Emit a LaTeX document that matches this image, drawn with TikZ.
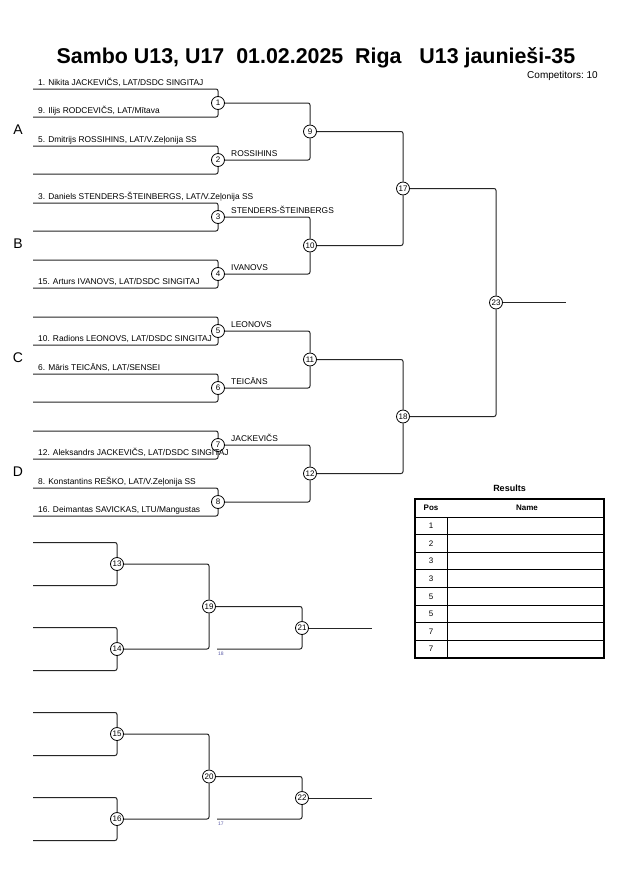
\documentclass[tikz,border=0pt]{standalone}
\usepackage{fontspec}
\setmainfont{Liberation Sans}
\begin{document}
\begin{tikzpicture}[x=1pt,y=-1pt,
  line/.style={line width=1pt,black!85,rounded corners=2pt},
  match/.style={circle,draw,line width=0.8pt,fill=white,inner sep=0.3pt,minimum size=13pt,font=\fontsize{8}{8}\selectfont},
  entry/.style={anchor=base west,inner sep=0pt,font=\fontsize{8.4}{9}\selectfont},
  tiny/.style={anchor=north west,inner sep=0pt,text=blue!30!gray,font=\fontsize{5}{5}\selectfont}]
  	\fill[white] (0,0) rectangle (630,891);
  	\useasboundingbox (0,0) rectangle (630,891);
  	\node[font=\bfseries\fontsize{21.4}{21.4}\selectfont] (title) at (316,57.5) {Sambo U13, U17\ \ 01.02.2025\ \ Riga\ \ \ U13 jaunieši-35};
  	\node[anchor=east,inner sep=0pt,font=\fontsize{10}{10}\selectfont] (comp) at (598,76) {Competitors:\ 10};
  	\foreach \i in {1,...,8}
  	{
  		\node[match] (m\i) at (218,46+57*\i) {\i};
  		\coordinate (t\i) at (33,32+57*\i);
  		\coordinate (b\i) at (33,60+57*\i);
  		\draw[line] (t\i) -| (m\i);
  		\draw[line] (b\i) -| (m\i);
  	}
  	\foreach \i/\x/\y in {9/310/131.5,10/310/245.5,11/310/359.5,12/310/473.5,17/403/188.5,18/403/416.5,23/496/302.5,13/117/564,14/117/649,15/117/734,16/117/819,19/209/606.5,20/209/776.5,21/302/628,22/302/798}
  	{
  		\node[match] (m\i) at (\x,\y) {\i};
  	}
  	\foreach \i/\y in {13/564,14/649,15/734,16/819}
  	{
  		\coordinate (t\i) at (33,\y-21.5);
  		\coordinate (b\i) at (33,\y+21.5);
  		\draw[line] (t\i) -| (m\i);
  		\draw[line] (b\i) -| (m\i);
  	}
  	\foreach \a/\b in {1/9,2/9,3/10,4/10,5/11,6/11,7/12,8/12,9/17,10/17,11/18,12/18,17/23,18/23,13/19,14/19,15/20,16/20,19/21,20/22}
  	{
  		\draw[line] (m\a) -| (m\b);
  	}
  	\coordinate (l18) at (217,649);
  	\coordinate (l17) at (217,819);
  	\draw[line] (l18) -| (m21);
  	\draw[line] (l17) -| (m22);
  	\node[tiny] (n18) at (218,651.5) {18};
  	\node[tiny] (n17) at (218,821.5) {17};
  	\coordinate (w23) at (566,302.5);
  	\coordinate (w21) at (372,628);
  	\coordinate (w22) at (372,798);
  	\draw[line] (m23) -- (w23);
  	\draw[line] (m21) -- (w21);
  	\draw[line] (m22) -- (w22);
  	\foreach \i/\t in {1/{1. Nikita JACKEVIČS, LAT/DSDC SINGITAJ},2/{5. Dmitrijs ROSSIHINS, LAT/V.Zeļonija SS},3/{3. Daniels STENDERS-ŠTEINBERGS, LAT/V.Zeļonija SS},6/{6. Māris TEICĀNS, LAT/SENSEI},8/{8. Konstantins REŠKO, LAT/V.Zeļonija SS}}
  	{
  		\node[entry] (nt\i) at (38,28+57*\i) {\t};
  	}
  	\foreach \i/\t in {1/{9. Ilijs RODCEVIČS, LAT/Mītava},4/{15. Arturs IVANOVS, LAT/DSDC SINGITAJ},5/{10. Radions LEONOVS, LAT/DSDC SINGITAJ},7/{12. Aleksandrs JACKEVIČS, LAT/DSDC SINGITAJ},8/{16. Deimantas SAVICKAS, LTU/Mangustas}}
  	{
  		\node[entry] (nb\i) at (38,56+57*\i) {\t};
  	}
  	\foreach \i/\t in {2/ROSSIHINS,3/STENDERS-ŠTEINBERGS,4/IVANOVS,5/LEONOVS,6/TEICĀNS,7/JACKEVIČS}
  	{
  		\node[entry] (w\i) at (231,42+57*\i) {\t};
  	}
  	\foreach \g/\y in {A/130,B/244,C/358,D/472}
  	{
  		\node[font=\fontsize{14}{14}\selectfont] (pool\g) at (18,\y) {\g};
  	}
  	\node[font=\bfseries\fontsize{9}{9}\selectfont] (res) at (509.5,488) {Results};
  	\node[font=\bfseries\fontsize{8}{8}\selectfont] (hpos) at (431,508) {Pos};
  	\node[font=\bfseries\fontsize{8}{8}\selectfont] (hname) at (527,508) {Name};
  	\draw[line width=0.8pt] (415,517) -- (604,517);
  	\draw[line width=0.8pt] (447,517) -- (447,658);
  	\foreach \r/\p in {1/1,2/2,3/3,4/3,5/5,6/5,7/7,8/7}
  	{
  		\node[font=\fontsize{8}{8}\selectfont] (pos\r) at (431,508.2+17.625*\r) {\p};
  		\draw[line width=0.8pt] (415,517+17.625*\r) -- (604,517+17.625*\r);
  	}
  	\draw[line width=2pt] (415,499) rectangle (604,658);
\end{tikzpicture}
\end{document}
